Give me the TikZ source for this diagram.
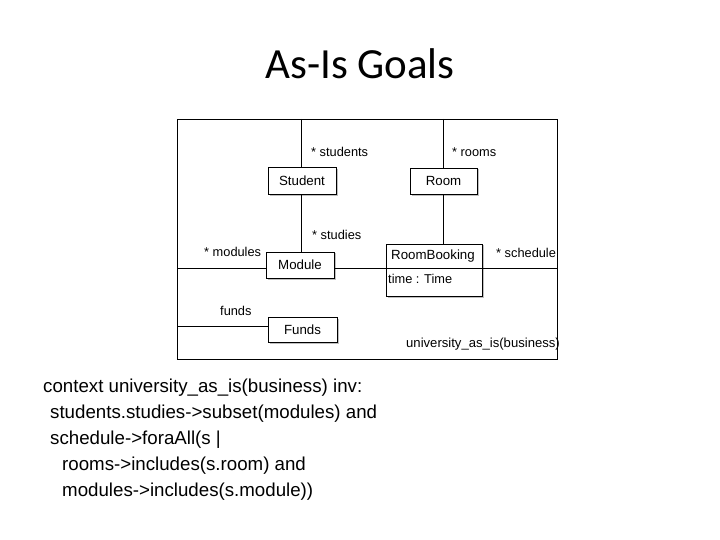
\documentclass[tikz,border=0pt]{standalone}
\usepackage{fontspec}
\setmainfont{Liberation Sans}
\newfontfamily\titlefont{Carlito}
\begin{document}
\begin{tikzpicture}[x=1pt,y=-1pt,
  cls/.style={draw=black,line width=0.9pt,fill=white,inner sep=0pt,font=\fontsize{13.3}{15}\selectfont},
  shadowed/.style={draw=black!25,line width=1.2pt},
  lbl/.style={inner sep=0pt,anchor=base west,font=\fontsize{12.8}{15}\selectfont},
  ln/.style={line width=0.9pt},
  ocl/.style={inner sep=0pt,anchor=base west,font=\fontsize{18.7}{22}\selectfont}]
\useasboundingbox (0,0) rectangle (720,540);
% title
\node[inner sep=0pt,anchor=base,font=\titlefont\fontsize{43}{48}\selectfont] (title) at (360,79) {As-Is Goals};
% frame
\draw[ln] (177,119) rectangle (557,359);
\coordinate (ftop1) at (301,119);
\coordinate (ftop2) at (443,119);
\coordinate (fleft1) at (177,268);
\coordinate (fleft2) at (177,326);
\coordinate (fright1) at (557,268);
% shadows
\draw[shadowed] (270,195) -- (337,195) -- (337,169);
\draw[shadowed] (412,195) -- (478,195) -- (478,169);
\draw[shadowed] (268,279) -- (335,279) -- (335,253);
\draw[shadowed] (270,343) -- (338,343) -- (338,319);
\draw[shadowed] (388,297) -- (483,297) -- (483,245);
% connectors
\draw[ln] (ftop1) -- (301,167);
\draw[ln] (301,194) -- (301,252);
\draw[ln] (ftop2) -- (443,168);
\draw[ln] (443,194) -- (443,244);
\draw[ln] (fleft1) -- (266,268);
\draw[ln] (334,268) -- (386,268);
\draw[ln] (482,268) -- (fright1);
\draw[ln] (fleft2) -- (268,326);
% classes
\node[cls,minimum width=68pt,minimum height=27pt] (student) at (302,181) {Student};
\node[cls,minimum width=67pt,minimum height=26pt] (room) at (443.5,181) {Room};
\node[cls,minimum width=68pt,minimum height=26pt] (module) at (300,265) {Module};
\node[cls,minimum width=69pt,minimum height=25pt] (funds) at (302.5,330) {Funds};
\draw[ln,fill=white] (386,244) rectangle (482,296);
\draw[ln] (386,268) -- (482,268);
\node[lbl,anchor=base,font=\fontsize{13.3}{15}\selectfont] (rb) at (433,259) {RoomBooking};
\node[lbl] (rbattr) at (388,283) {time : Time};
% role labels
\node[lbl] (l1) at (311,157) {* students};
\node[lbl] (l2) at (452,157) {* rooms};
\node[lbl] (l3) at (312,240) {* studies};
\node[lbl] (l4) at (204,256) {* modules};
\node[lbl] (l5) at (496,257) {* schedule};
\node[lbl] (l6) at (220,315) {funds};
\node[lbl,font=\fontsize{13.1}{15}\selectfont] (l7) at (406,347) {university\_as\_is(business)};
% OCL
\node[ocl] (o1) at (43,392) {context university\_as\_is(business) inv:};
\node[ocl] (o2) at (50,418) {students.studies->subset(modules) and};
\node[ocl] (o3) at (50,444) {schedule->foraAll(s |};
\node[ocl] (o4) at (62,470) {rooms->includes(s.room) and};
\node[ocl] (o5) at (62,496) {modules->includes(s.module))};
\end{tikzpicture}
\end{document}
